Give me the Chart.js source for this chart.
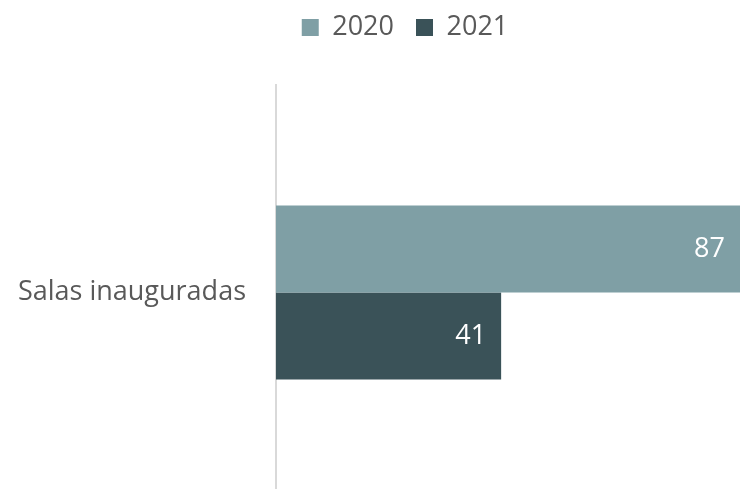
<!DOCTYPE html>
<html>
<head>
<meta charset="utf-8">
<script src="https://cdn.jsdelivr.net/npm/chart.js@4"></script>
<style>
  html, body { margin: 0; padding: 0; background: #fff; }
  #wrap { width: 740px; height: 489px; }
</style>
</head>
<body>
<div id="wrap"><canvas id="salas"></canvas></div>
<script>
var categories = ['Salas inauguradas'];
var series2020 = [87];
var series2021 = [41];
var seriesLabels = ['2020', '2021'];

// white value labels drawn inside the end of each bar
var insideEndLabels = {
    id: 'insideEndLabels',
    afterDatasetsDraw: function (chart) {
        var ctx = chart.ctx;
        ctx.save();
        ctx.font = '27px "Open Sans"';
        ctx.fillStyle = '#ffffff';
        ctx.textAlign = 'right';
        ctx.textBaseline = 'middle';
        chart.data.datasets.forEach(function (ds, i) {
            chart.getDatasetMeta(i).data.forEach(function (bar, j) {
                var x = Math.min(bar.x, chart.chartArea.right);
                ctx.fillText(ds.data[j], x - 15, bar.y);
            });
        });
        ctx.restore();
    }
};

// more room between legend and plot, legend sits a little right of centre
var legendGap = {
    id: 'legendGap',
    beforeInit: function (chart) {
        var fit = chart.legend.fit;
        chart.legend.fit = function () {
            fit.bind(chart.legend)();
            this.height += 45;
        };
    },
    afterLayout: function (chart) {
        chart.legend.left += 54;
    }
};

// axis line runs a bit above the plot area
var axisExtend = {
    id: 'axisExtend',
    afterDraw: function (chart) {
        var ctx = chart.ctx;
        var a = chart.chartArea;
        ctx.save();
        ctx.strokeStyle = '#d9d9d9';
        ctx.lineWidth = 2;
        ctx.beginPath();
        ctx.moveTo(a.left, a.top - 12);
        ctx.lineTo(a.left, a.top);
        ctx.stroke();
        ctx.restore();
    }
};

var ctxSalas = document.getElementById('salas').getContext('2d');
var salasChart = new Chart(ctxSalas, {
    type: 'bar',
    data: {
        labels: categories,
        datasets: [
            {
                label: seriesLabels[0],
                data: series2020,
                backgroundColor: 'rgb(127, 159, 165)',
                borderWidth: 0
            },
            {
                label: seriesLabels[1],
                data: series2021,
                backgroundColor: 'rgb(58, 82, 88)',
                borderWidth: 0
            }
        ]
    },
    options: {
        indexAxis: 'y',
        responsive: true,
        maintainAspectRatio: false,
        animation: false,
        datasets: {
            bar: {
                categoryPercentage: 0.443,
                barPercentage: 1
            }
        },
        layout: {
            padding: { left: 16, top: -8, right: 0, bottom: 0 }
        },
        plugins: {
            legend: {
                display: true,
                position: 'top',
                labels: {
                    boxWidth: 17,
                    boxHeight: 17,
                    padding: 22,
                    color: '#595959',
                    font: { family: '"Open Sans"', size: 27 }
                }
            },
            tooltip: { enabled: false }
        },
        scales: {
            x: {
                display: false,
                min: 0,
                max: 84.5
            },
            y: {
                grid: { display: false, drawTicks: false },
                border: { display: true, color: '#d9d9d9', width: 2 },
                ticks: {
                    padding: 30,
                    color: '#595959',
                    font: { family: '"Open Sans"', size: 27 }
                },
                afterFit: function (scale) {
                    scale.width = 260;
                    scale.paddingTop = 0;
                    scale.paddingBottom = 0;
                }
            }
        }
    },
    plugins: [insideEndLabels, legendGap, axisExtend]
});
</script>
</body>
</html>
